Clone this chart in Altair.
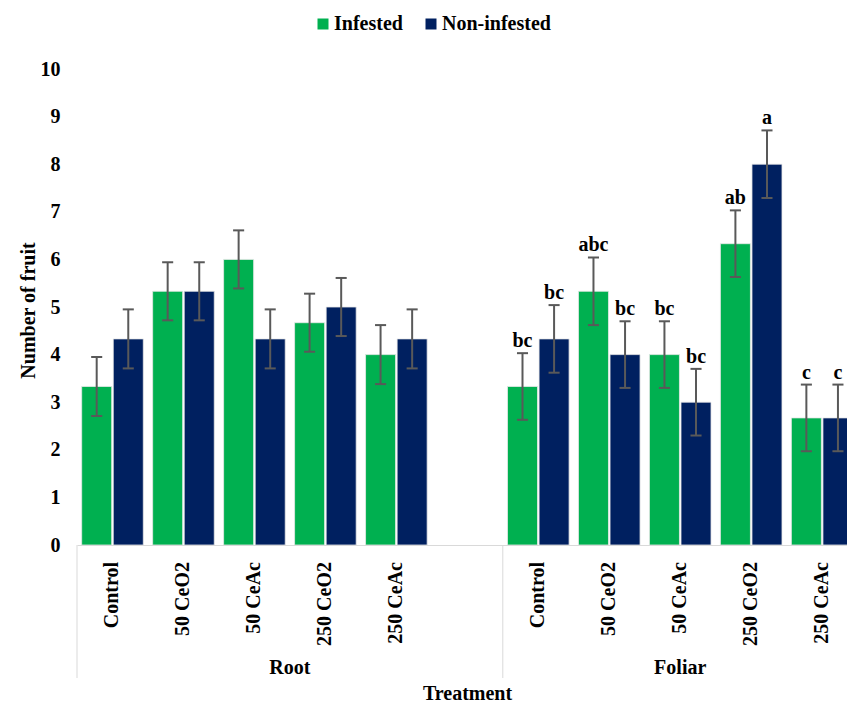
import altair as alt
import pandas as pd

# ---- data ----
treatments = ["Control", "50 CeO2", "50 CeAc", "250 CeO2", "250 CeAc"]
groups = ["Root", "Foliar"]
series = ["Infested", "Non-infested"]
colors = ["#00B050", "#002060"]

root_infested = [3.33, 5.33, 6.00, 4.67, 4.00]
root_noninfested = [4.33, 5.33, 4.33, 5.00, 4.33]
foliar_infested = [3.33, 5.33, 4.00, 6.33, 2.67]
foliar_noninfested = [4.33, 4.00, 3.00, 8.00, 2.67]

root_infested_err = [0.62, 0.61, 0.61, 0.61, 0.62]
root_noninfested_err = [0.62, 0.61, 0.62, 0.61, 0.62]
foliar_infested_err = [0.70, 0.71, 0.70, 0.70, 0.70]
foliar_noninfested_err = [0.71, 0.70, 0.70, 0.71, 0.70]

root_infested_letters = ["", "", "", "", ""]
root_noninfested_letters = ["", "", "", "", ""]
foliar_infested_letters = ["bc", "abc", "bc", "ab", "c"]
foliar_noninfested_letters = ["bc", "bc", "bc", "a", "c"]

values = {
    ("Root", "Infested"): (root_infested, root_infested_err, root_infested_letters),
    ("Root", "Non-infested"): (root_noninfested, root_noninfested_err, root_noninfested_letters),
    ("Foliar", "Infested"): (foliar_infested, foliar_infested_err, foliar_infested_letters),
    ("Foliar", "Non-infested"): (foliar_noninfested, foliar_noninfested_err, foliar_noninfested_letters),
}

n = len(treatments)
rows = []
for gi, g in enumerate(groups):
    for si, s in enumerate(series):
        v, e, l = values[(g, s)]
        for ti, t in enumerate(treatments):
            rows.append({"group": g, "treatment": t, "series": s, "side": si,
                         "slot": gi * (n + 1) + ti, "value": v[ti], "err": e[ti],
                         "letter": l[ti]})
df = pd.DataFrame(rows)

grp_rows = []
for gi, g in enumerate(groups):
    start = gi * (n + 1) - 0.5
    end = gi * (n + 1) + n - 0.5 + (1 if gi < len(groups) - 1 else 0)
    grp_rows.append({"group": g, "start": start, "center": (start + end) / 2})
gdf = pd.DataFrame(grp_rows)

FONT = "Liberation Serif"
xscale = alt.Scale(domain=[-0.5, 10.35], nice=False, zero=False)
yscale = alt.Scale(domain=[0, 10], nice=False)

base = alt.Chart(df).transform_calculate(
    x0="datum.slot + (datum.side == 0 ? -0.434 : 0.011)",
    x1="datum.slot + (datum.side == 0 ? -0.011 : 0.434)",
    xc="datum.slot + (datum.side == 0 ? -0.2225 : 0.2225)",
    lo="datum.value - datum.err",
    hi="datum.value + datum.err",
)

bars = base.mark_bar(clip=True, stroke="#e8e8e8", strokeWidth=0.8).encode(
    x=alt.X("x0:Q", scale=xscale,
            axis=alt.Axis(labels=False, ticks=False, grid=False,
                          domainColor="#d9d9d9", domainWidth=1,
                          title="Treatment", titleFont=FONT, titleFontSize=20,
                          titleFontWeight="bold", titleColor="black",
                          titleX=390, titleY=154, titleBaseline="alphabetic",
                          titleAlign="center")),
    x2="x1:Q",
    y=alt.Y("value:Q", scale=yscale,
            axis=alt.Axis(values=list(range(11)), format="d", grid=False,
                          domain=False, ticks=False, labelPadding=17,
                          labelFont=FONT, labelFontSize=20, labelFontWeight="bold",
                          labelColor="black",
                          title="Number of fruit", titleFont=FONT, titleFontSize=20,
                          titleFontWeight="bold", titleColor="black",
                          titleAngle=270, titleX=-49, titleY=241,
                          titleAlign="center", titleBaseline="middle")),
    y2=alt.datum(0),
    color=alt.Color("series:N", scale=alt.Scale(domain=series, range=colors),
                    legend=alt.Legend(title=None, orient="none", direction="horizontal",
                                      legendX=236, legendY=-55, symbolType="square",
                                      symbolSize=121, symbolStrokeWidth=0,
                                      labelFont=FONT, labelFontSize=20,
                                      labelFontWeight="bold", labelColor="black",
                                      labelOffset=1, columnPadding=18, padding=0)),
)

err = base.mark_rule(color="#595959", strokeWidth=2, clip=True).encode(
    x="xc:Q", y="lo:Q", y2="hi:Q")

caps = base.transform_fold(["lo", "hi"], as_=["end", "pos"]).transform_calculate(
    c0="datum.xc - 0.078", c1="datum.xc + 0.078"
).mark_rule(color="#595959", strokeWidth=2, clip=True).encode(
    x="c0:Q", x2="c1:Q", y="pos:Q")

letters = base.transform_filter("datum.letter != ''").mark_text(
    font=FONT, fontSize=20, fontWeight="bold", color="black",
    baseline="alphabetic", dy=-6).encode(x="xc:Q", y="hi:Q", text="letter:N")

cat_labels = alt.Chart(df).transform_filter("datum.side == 0").mark_text(
    font=FONT, fontSize=20, fontWeight="bold", color="black",
    angle=270, align="right", baseline="middle").encode(
    x="slot:Q", y=alt.value(493), text="treatment:N")

dividers = alt.Chart(gdf).mark_rule(color="#d9d9d9", strokeWidth=1).encode(
    x="start:Q", y=alt.value(476), y2=alt.value(609))

group_labels = alt.Chart(gdf).mark_text(
    font=FONT, fontSize=20, fontWeight="bold", color="black",
    baseline="alphabetic").encode(x="center:Q", y=alt.value(605), text="group:N")

chart = alt.layer(dividers, bars, err, caps, letters, cat_labels, group_labels).properties(
    width=770, height=476,
    autosize=alt.AutoSizeParams(type="none"),
    padding={"left": 77, "top": 69, "right": 0, "bottom": 159},
).configure_view(strokeWidth=0)

chart.save("out.html", embed_options={"renderer": "svg", "actions": False})
